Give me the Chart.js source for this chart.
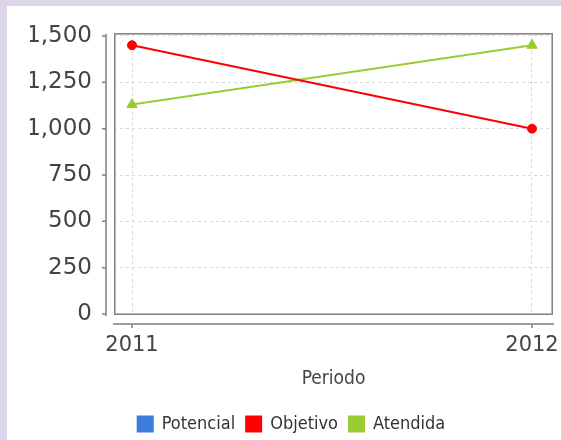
<!DOCTYPE html>
<html>
<head>
<meta charset="utf-8">
<script src="https://cdn.jsdelivr.net/npm/chart.js@4"></script>
<style>
  body { margin: 0; background: #dcd4e8; }
  #panel { position: absolute; left: 7px; top: 6px; width: 554px; height: 434px; background: #ffffff; }
</style>
</head>
<body>
<div id="panel"><canvas id="periodo_chart" width="554" height="434"></canvas></div>
<script>
var periods = [2011, 2012];
var potencial = [null, null];
var objetivo = [1450, 1000];
var atendida = [1130, 1450];
var y_ticks = [0, 250, 500, 750, 1000, 1250, 1500];

var series_colors = ['#3b7dd8', '#ff0000', '#99cc33'];

function points(values) {
    return periods.map(function (p, i) { return {x: p, y: values[i]}; });
}

// frame round the plot + the detached axis lines, like the original
var framePlugin = {
    id: 'frame',
    beforeDatasetsDraw: function (chart) {
        var ctx = chart.ctx, a = chart.chartArea;
        var xs = chart.scales.x, ys = chart.scales.y;
        ctx.save();
        ctx.strokeStyle = '#848484';
        ctx.lineWidth = 1;
        ctx.strokeRect(a.left + 0.5, a.top + 0.5, a.right - a.left - 1, a.bottom - a.top - 1);
        ctx.strokeStyle = '#b8b8b8';
        ctx.strokeRect(a.left + 1.5, a.top + 1.5, a.right - a.left - 3, a.bottom - a.top - 3);

        ctx.strokeStyle = '#808080';
        ctx.lineWidth = 1.5;
        ctx.beginPath();
        var ax = a.left - 8;
        ctx.moveTo(ax, a.top + 1);
        ctx.lineTo(ax, a.bottom + 1);
        y_ticks.forEach(function (v) {
            var py = ys.getPixelForValue(v);
            ctx.moveTo(ax - 4, py);
            ctx.lineTo(ax, py);
        });
        var ay = a.bottom + 9;
        ctx.moveTo(a.left - 1, ay);
        ctx.lineTo(a.right + 1, ay);
        periods.forEach(function (p) {
            var px = xs.getPixelForValue(p);
            ctx.moveTo(px, ay);
            ctx.lineTo(px, ay + 4);
        });
        ctx.stroke();
        ctx.restore();
    }
};

const data = {
    datasets: [{
        label: 'Potencial',
        data: points(potencial),
        borderColor: series_colors[0],
        backgroundColor: series_colors[0],
    },
    {
        label: 'Objetivo',
        data: points(objetivo),
        borderColor: series_colors[1],
        backgroundColor: series_colors[1],
        pointStyle: 'circle',
        pointRadius: 4.5,
    },
    {
        label: 'Atendida',
        data: points(atendida),
        borderColor: series_colors[2],
        backgroundColor: series_colors[2],
        pointStyle: 'triangle',
        pointRadius: 6,
    }]
};

const config = {
    type: 'line',
    data: data,
    options: {
        responsive: false,
        devicePixelRatio: 1,
        animation: false,
        layout: { padding: { top: 27, right: 8, left: 23, bottom: -3 } },
        elements: {
            line: { borderWidth: 2, tension: 0 },
            point: { borderWidth: 1 }
        },
        scales: {
            x: {
                type: 'linear',
                min: 2010.955,
                max: 2012.0525,
                afterBuildTicks: function (scale) {
                    scale.ticks = periods.map(function (p) { return {value: p}; });
                },
                afterFit: function (scale) {
                    scale.height = 89;
                    scale.paddingLeft = 0;
                    scale.paddingRight = 0;
                },
                ticks: {
                    callback: function (v) { return String(v); },
                    font: { family: 'DejaVu Sans', size: 21 },
                    color: '#444444',
                    padding: 18,
                    maxRotation: 0,
                },
                grid: { color: '#d8d8d8', drawTicks: false },
                border: { display: false, dash: [3, 3] },
                title: {
                    display: true,
                    text: 'Periodo',
                    font: { family: "'DejaVu Sans Condensed', 'DejaVu Sans'", size: 19 },
                    color: '#444444',
                    padding: { top: 4, bottom: 14 }
                }
            },
            y: {
                min: -5,
                max: 1516,
                afterBuildTicks: function (scale) {
                    scale.ticks = y_ticks.map(function (v) { return {value: v}; });
                },
                afterFit: function (scale) {
                    scale.width = 84;
                    scale.paddingTop = 0;
                    scale.paddingBottom = 0;
                },
                ticks: {
                    callback: function (v) { return v.toLocaleString('en-US'); },
                    font: { family: 'DejaVu Sans', size: 23 },
                    color: '#444444',
                    padding: 22,
                },
                grid: { color: '#d8d8d8', drawTicks: false },
                border: { display: false, dash: [3, 3] },
            }
        },
        plugins: {
            legend: {
                display: true,
                position: 'bottom',
                labels: {
                    boxWidth: 15,
                    boxHeight: 15,
                    padding: 11,
                    color: '#333333',
                    font: { family: "'DejaVu Sans Condensed', 'DejaVu Sans'", size: 18 },
                }
            },
            tooltip: { enabled: false }
        }
    },
    plugins: [framePlugin]
};

let element_id = "periodo_chart";
const myChart = new Chart(
    document.getElementById(element_id),
    config
    );
</script>
</body>
</html>
